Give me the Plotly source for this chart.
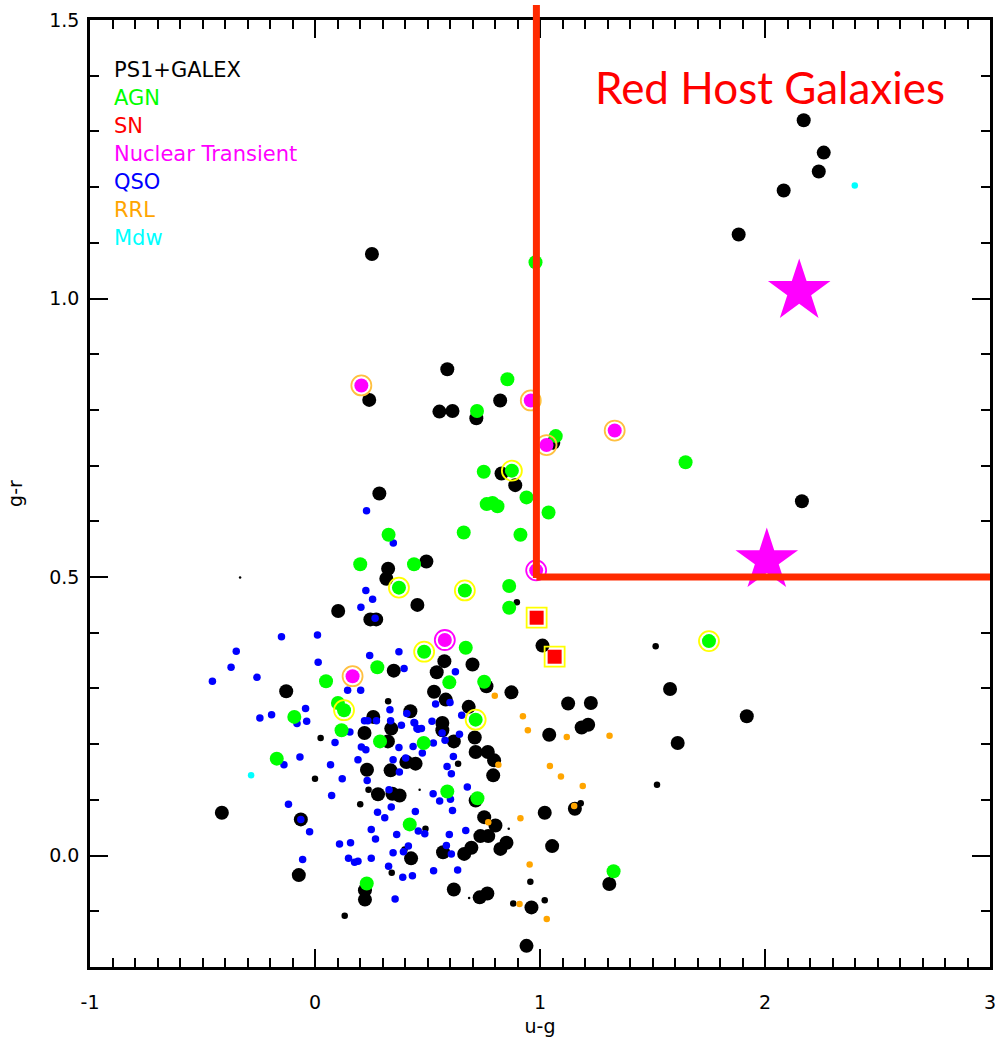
import plotly.graph_objects as go

# ---------------- data (u-g, g-r) ----------------
ps1_x = [2.172, 2.261, 2.239, 2.083, 1.883, 2.164, 0.253, 0.588, 0.241, 0.823, 0.553, 0.611, 0.717,
         1.059, 0.286, 0.829, 0.890, 0.325, 0.317, 0.103, 0.246, 0.272, 0.495, 0.455, 1.011, 0.350,
         -0.128, 0.259, 0.220, 0.339, 0.424, 0.575, 0.700, 0.541, 0.762, 0.529, 0.581, 0.873, 1.125,
         1.226, 0.683, 1.185, 1.214, 1.041, 0.566, 0.566, 0.710, 0.617, 0.324, 0.714, 0.768, 0.796,
         0.792, 0.406, 0.447, 0.231, 0.336, 0.280, 0.344, 0.376, 0.714, -0.063, 0.427, -0.072, 0.222,
         0.222, 0.752, 0.802, 0.735, 0.770, 0.824, 0.851, 0.695, 0.663, 0.569, 1.021, 1.054, 0.617,
         0.732, 0.766, 0.962, 0.940, 1.578, 1.919, 1.612, 1.155, 1.308, -0.414]
ps1_y = [1.320, 1.262, 1.228, 1.194, 1.115, 0.636, 1.080, 0.873, 0.818, 0.817, 0.797, 0.798, 0.785,
         0.741, 0.650, 0.686, 0.665, 0.515, 0.497, 0.439, 0.424, 0.424, 0.528, 0.450, 0.377, 0.332,
         0.295, 0.249, 0.220, 0.228, 0.259, 0.349, 0.343, 0.329, 0.304, 0.294, 0.280, 0.293, 0.273,
         0.274, 0.267, 0.230, 0.235, 0.217, 0.238, 0.225, 0.212, 0.205, 0.205, 0.186, 0.186, 0.171,
         0.144, 0.168, 0.165, 0.154, 0.153, 0.110, 0.111, 0.108, 0.099, 0.065, -0.005, -0.035, -0.062,
         -0.079, 0.069, 0.054, 0.035, 0.035, 0.012, 0.023, 0.014, 0.003, 0.006, 0.077, 0.017, -0.061,
         -0.075, -0.068, -0.093, -0.162, 0.299, 0.250, 0.202, 0.084, -0.051, 0.077]

ps1_small_x = [0.325, 0.025, 0.000, 0.238, 0.201, 0.398, 0.341, 0.132, 0.897, 0.636, 0.491, 0.957,
               0.881, 1.021, 1.514, 1.520, 1.181]
ps1_small_y = [0.277, 0.211, 0.138, 0.118, 0.092, 0.011, -0.031, -0.108, 0.455, 0.165, 0.048, -0.047,
               -0.086, -0.080, 0.376, 0.127, 0.094]

ps1_tiny_x = [-0.333, 0.465, 0.861, 0.685]
ps1_tiny_y = [0.499, 0.118, 0.048, -0.076]

qso_x = [0.229, 0.226, 0.256, 0.204, 0.267, -0.149, 0.011, -0.350, -0.373, -0.456, -0.258, 0.014,
         0.243, 0.145, 0.203, -0.042, -0.193, -0.245, -0.037, -0.080, 0.220, 0.235, 0.273, 0.155,
         0.333, 0.336, 0.373, 0.396, 0.408, 0.443, 0.458, 0.089, 0.206, 0.226, 0.373, 0.436, -0.067,
         0.191, 0.347, 0.403, 0.069, 0.375, 0.121, 0.232, 0.074, 0.329, -0.118, -0.063, -0.024, 0.278,
         0.339, 0.310, 0.446, 0.459, 0.250, 0.363, 0.109, 0.158, 0.269, 0.415, 0.393, 0.347, -0.055,
         0.149, 0.176, 0.191, 0.250, 0.327, 0.390, 0.433, 0.356, -0.138, 0.348, 0.624, 0.600, 0.536,
         0.652, 0.440, 0.453, 0.473, 0.520, 0.384, 0.565, 0.642, 0.578, 0.526, 0.477, 0.615, 0.587,
         0.606, 0.677, 0.525, 0.554, 0.602, 0.611, 0.488, 0.670, 0.597, 0.584, 0.606, 0.527, 0.634]
qso_y = [0.619, 0.476, 0.460, 0.446, 0.426, 0.393, 0.396, 0.367, 0.338, 0.313, 0.320, 0.347,
         0.359, 0.297, 0.297, 0.264, 0.253, 0.247, 0.241, 0.237, 0.242, 0.242, 0.242, 0.222,
         0.262, 0.242, 0.366, 0.336, 0.255, 0.238, 0.227, 0.203, 0.195, 0.190, 0.194, 0.196, 0.177,
         0.172, 0.172, 0.175, 0.163, 0.150, 0.138, 0.135, 0.108, 0.118, 0.092, 0.065, 0.043, 0.078,
         0.087, 0.068, 0.079, 0.044, 0.047, 0.038, 0.021, 0.023, 0.030, 0.017, 0.007, 0.005, -0.007,
         -0.005, -0.012, -0.010, -0.005, -0.019, -0.039, -0.036, -0.078, 0.163, 0.561, 0.330, 0.275, 0.272,
         0.252, 0.239, 0.228, 0.228, 0.241, 0.234, 0.220, 0.218, 0.207, 0.202, 0.184, 0.178, 0.160,
         0.147, 0.123, 0.111, 0.098, 0.101, 0.081, 0.039, 0.045, 0.038, 0.018, 0.003, -0.027, -0.026]

rrl_x = [0.799, 0.924, 0.946, 1.119, 1.309, 0.815, 1.044, 1.093, 1.190, 1.152, 0.913, 0.770, 0.954,
         0.909, 1.030]
rrl_y = [0.287, 0.250, 0.225, 0.213, 0.215, 0.163, 0.161, 0.142, 0.125, 0.089, 0.067, 0.060, -0.016,
         -0.087, -0.114]

agn_x = [1.647, 0.980, 0.855, 0.720, 1.070, 0.750, 0.763, 0.789, 0.811, 0.940, 1.038, 0.327, 0.201,
         0.661, 0.913, 0.440, 0.863, 0.863, 0.670, 0.277, 0.049, 0.102, 0.118, -0.092, 0.597, 0.752,
         0.289, 0.483, -0.170, 0.588, 0.722, 0.421, 0.230, 1.327]
agn_y = [0.706, 1.065, 0.855, 0.798, 0.753, 0.689, 0.631, 0.633, 0.627, 0.643, 0.616, 0.576, 0.523,
         0.580, 0.576, 0.523, 0.484, 0.445, 0.373, 0.338, 0.313, 0.274, 0.225, 0.249, 0.311, 0.312,
         0.205, 0.202, 0.174, 0.115, 0.103, 0.056, -0.050, -0.028]

agn_ring_x = [0.875, 0.373, 0.666, 0.485, 0.129, 0.714, 1.751]
agn_ring_y = [0.691, 0.481, 0.476, 0.366, 0.261, 0.244, 0.385]

nt_ring_x = [0.206, 0.959, 1.029, 1.332, 0.167]
nt_ring_y = [0.844, 0.817, 0.737, 0.763, 0.322]
nt_mring_x = [0.983, 0.577]
nt_mring_y = [0.512, 0.387]

sn_x = [0.985, 1.065]
sn_y = [0.427, 0.357]

mdw_x = [-0.284, 2.399]
mdw_y = [0.144, 1.203]

star_x = [2.152, 2.008]
star_y = [1.013, 0.530]

legend_labels = ["PS1+GALEX", "AGN", "SN", "Nuclear Transient", "QSO", "RRL", "Mdw"]
legend_colors = ["#000000", "#00FF00", "#FF0000", "#FF00FF", "#0000FF", "#FFA500", "#00FFFF"]

x_ticks = [-1, 0, 1, 2, 3]
y_ticks = [0.0, 0.5, 1.0, 1.5]

# ---------------- figure ----------------
fig = go.Figure()

def sc(x, y, color, size, symbol="circle", lw=0, lc=None):
    fig.add_trace(go.Scatter(
        x=x, y=y, mode="markers", hoverinfo="skip",
        marker=dict(color=color, size=size, symbol=symbol,
                    line=dict(width=lw, color=lc if lc else color)),
    ))

sc(ps1_x, ps1_y, "#000000", 14)
sc(ps1_small_x, ps1_small_y, "#000000", 6.5)
sc(ps1_tiny_x, ps1_tiny_y, "#000000", 2.5)
sc(qso_x, qso_y, "#0000FF", 7.5)
sc(rrl_x, rrl_y, "#FFA500", 6.5)
sc(agn_x, agn_y, "#00FF00", 14)
sc(agn_ring_x, agn_ring_y, "#00FF00", 14)
sc(agn_ring_x, agn_ring_y, "#FFFF00", 20, "circle-open", 1.8)
sc(nt_ring_x, nt_ring_y, "#FF00FF", 14)
sc(nt_ring_x, nt_ring_y, "#FFC040", 20, "circle-open", 1.8)
sc(nt_mring_x, nt_mring_y, "#FF00FF", 14)
sc(nt_mring_x, nt_mring_y, "#FF00FF", 20, "circle-open", 1.8)
sc(sn_x, sn_y, "#FF0000", 14, "square")
sc(sn_x, sn_y, "#FFFF00", 20, "square-open", 1.8)
sc(mdw_x, mdw_y, "#00FFFF", 6.5)
sc(star_x, star_y, "#FF00FF", 47, "star")

# red selection lines
fig.add_shape(type="line", xref="x", yref="paper", x0=0.984, x1=0.984,
              y0=(967 - 578) / 947, y1=(967 - 5) / 947,
              line=dict(color="#FF2A00", width=7))
fig.add_shape(type="line", xref="x", yref="y", x0=0.984, x1=3.0, y0=0.5, y1=0.5,
              line=dict(color="#FF2A00", width=7))

fig.add_annotation(text="Red Host Galaxies", xref="x", yref="paper",
                   x=2.02, y=(967 - 87) / 947, showarrow=False,
                   xanchor="center", yanchor="middle",
                   font=dict(family="Lato", size=44, color="#FF0000"))

for i, (lab, col) in enumerate(zip(legend_labels, legend_colors)):
    fig.add_annotation(text=lab, xref="paper", yref="paper",
                       x=(112 - 90) / 900, y=(967 - (70 + 28 * i)) / 947,
                       xanchor="left", yanchor="middle", showarrow=False,
                       font=dict(family="DejaVu Sans", size=21, color=col))

axis_font = dict(family="DejaVu Sans", size=19, color="#000000")
fig.update_layout(
    width=996, height=1037,
    margin=dict(l=90, r=6, t=20, b=70),
    paper_bgcolor="white", plot_bgcolor="white",
    showlegend=False,
    font=axis_font,
    xaxis=dict(range=[-1, 3], tickvals=x_ticks, ticktext=[str(v) for v in x_ticks],
               ticks="inside", ticklen=18, tickwidth=2, tickcolor="black",
               minor=dict(ticks="inside", ticklen=9, dtick=0.1, tickwidth=1.5, tickcolor="black"),
               showline=True, linewidth=2.5, linecolor="black", mirror="ticks",
               showgrid=False, zeroline=False, ticklabelstandoff=16, automargin=False,
               ticklabeloverflow="allow",
               title=dict(text="u-g", font=axis_font, standoff=9)),
    yaxis=dict(range=[-0.2, 1.5], tickvals=y_ticks, ticktext=["%.1f" % v for v in y_ticks],
               ticks="inside", ticklen=18, tickwidth=2, tickcolor="black",
               minor=dict(ticks="inside", ticklen=9, dtick=0.1, tickwidth=1.5, tickcolor="black"),
               showline=True, linewidth=2.5, linecolor="black", mirror="ticks",
               showgrid=False, zeroline=False, ticklabelstandoff=4, automargin=False,
               ticklabeloverflow="allow",
               title=dict(text="g-r", font=axis_font, standoff=22)),
)

fig.write_html("out.html")
